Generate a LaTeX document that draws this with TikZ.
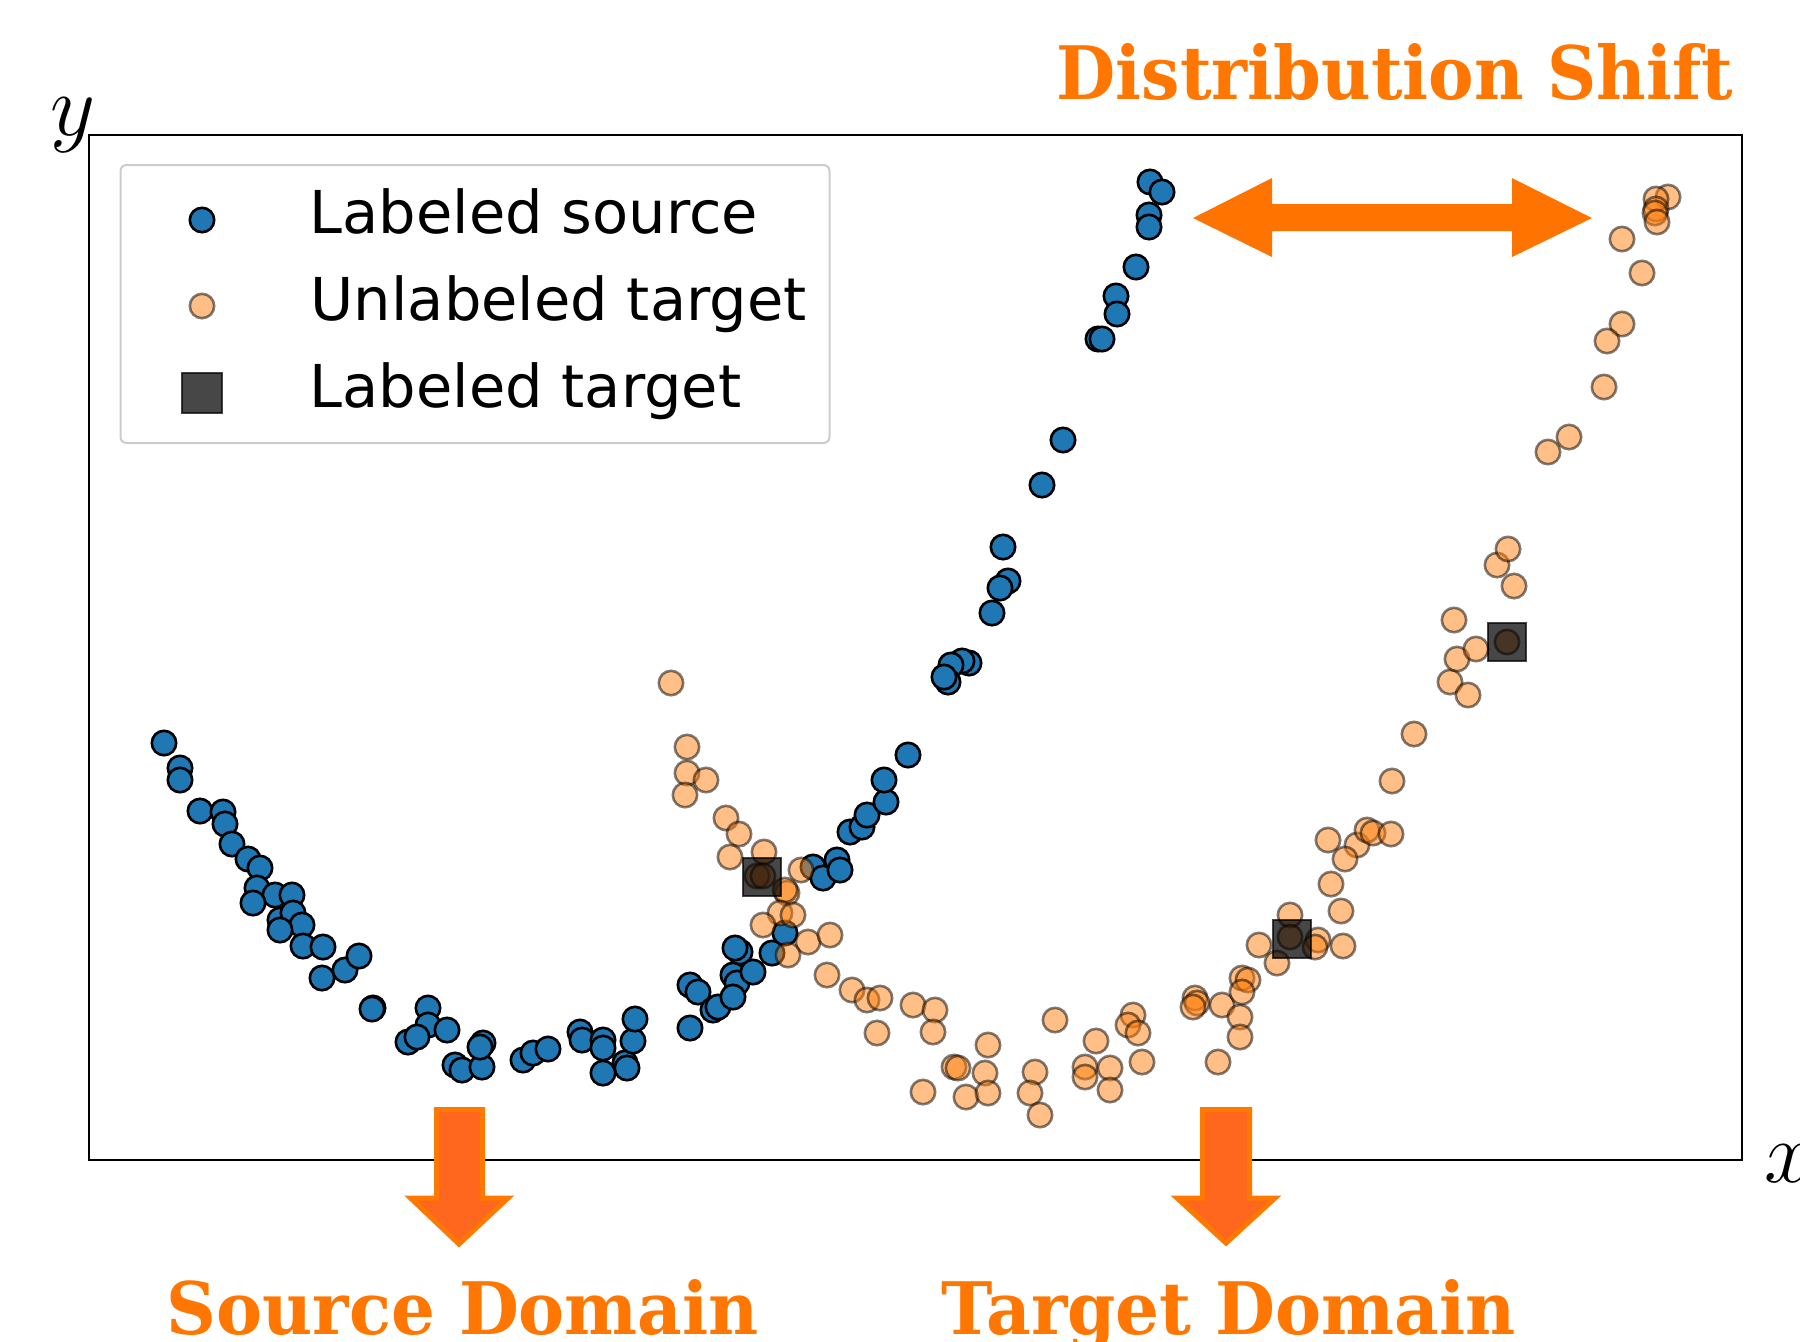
\documentclass[tikz,border=0pt]{standalone}
\usepackage{fontspec}
\newfontfamily\legfont{DejaVu Sans}
\newfontfamily\titlefont{DejaVu Serif}
\definecolor{mblue}{RGB}{31,119,180}
\definecolor{morange}{RGB}{255,127,14}
\definecolor{shiftorange}{RGB}{255,116,0}
\definecolor{txtorange}{RGB}{255,118,0}
\definecolor{downfill}{RGB}{255,102,30}
\definecolor{downedge}{RGB}{255,120,0}
\definecolor{leggray}{RGB}{204,204,204}
\tikzset{
  bluept/.style={fill=mblue, draw=black, line width=0.026cm},
  orpt/.style={fill=morange, draw=black, fill opacity=0.5, draw opacity=0.5, line width=0.026cm},
  sqpt/.style={fill=black, draw=black, fill opacity=0.72, draw opacity=0.72, line width=0.026cm},
  legtext/.style={anchor=base west, inner sep=0pt, font=\legfont\fontsize{16.8}{18}\selectfont},
  bigtext/.style={anchor=base west, inner sep=0pt, text=txtorange},
  axlabel/.style={anchor=base west, inner sep=0pt, font=\fontsize{23}{24}\selectfont},
  shiftarrow/.style={fill=shiftorange, draw=none},
  downarrow/.style={fill=downfill, draw=downedge, line width=0.05cm, miter limit=10},
}
\begin{document}
\begin{tikzpicture}[x=0.01cm, y=-0.01cm]
\useasboundingbox (0,0) rectangle (1800,1341);
% frame
\draw[line width=0.028cm] (89,135) rectangle (1742,1160);
% blue points
\foreach \x/\y in {164/743, 180/768, 180/780, 200/811, 223/812, 225/824, 232/844, 248/859, 260/868, 257/888, 275/895, 292/895, 253/903, 280/920, 293/913, 302/925, 280/930, 303/946, 323/947, 322/978, 345/970, 359/956, 373/1008, 372/1009, 428/1008, 428/1025, 447/1030, 408/1042, 417/1037, 455/1065, 462/1070, 482/1067, 483/1043, 480/1047, 523/1060, 533/1053, 548/1049, 580/1032, 582/1040, 603/1040, 603/1048, 603/1073, 625/1063, 627/1068, 633/1041, 635/1019,
690/985, 698/992, 713/1010, 718/1007, 690/1028, 733/975, 737/983, 733/997, 740/952, 735/948, 753/972, 772/953, 785/933, 813/867, 823/878, 837/860, 840/870, 850/832, 862/827, 867/815, 886/802, 884/780, 908/755,
1042/485, 1003/547, 1008/581, 1000/588, 992/613, 969/663, 962/661, 951/665, 948/682, 944/677,
1150/182, 1162/192, 1149/215, 1149/227, 1136/267, 1116/296, 1117/314, 1098/339, 1102/339, 1063/440}
  \draw[bluept] (\x,\y) circle (0.122cm);
% orange points
\foreach \x/\y in {671/683, 687/747, 687/773, 706/780, 685/795, 726/818, 739/834, 730/857, 764/852, 801/870, 787/893, 785/890, 757/876, 763/876, 780/913, 793/915, 763/925, 808/942, 830/935, 788/955, 827/975, 852/990, 867/1000, 880/998, 877/1033, 913/1005, 935/1010, 933/1032, 988/1045, 1055/1020,
954/1067, 958/1068, 985/1073, 923/1092, 966/1097, 988/1093, 1035/1072, 1030/1093, 1040/1115, 1096/1041, 1085/1067, 1085/1077, 1110/1068, 1110/1090, 1133/1015, 1128/1025, 1138/1033, 1142/1062, 1195/998, 1197/1003, 1193/1007, 1222/1005, 1218/1062, 1240/1017, 1240/1037, 1242/978, 1248/980, 1242/992, 1259/945, 1277/963, 1290/915,
1290/937, 1318/940, 1315/947, 1343/946, 1328/840, 1357/845, 1345/859, 1331/884, 1341/911, 1367/830, 1373/833, 1391/834, 1392/781, 1414/734, 1450/682, 1468/695, 1457/659, 1476/649, 1507/642, 1454/620, 1497/565, 1514/586, 1508/549,
1668/197, 1656/199, 1656/209, 1655/213, 1657/222, 1622/239, 1642/273, 1622/324, 1607/341, 1604/387, 1569/437, 1548/452}
  \draw[orpt] (\x,\y) circle (0.122cm);
% labeled target squares
\foreach \x/\y in {762/877, 1292/939, 1507/642}
  \draw[sqpt] (\x-19,\y-19) rectangle (\x+19,\y+19);
% legend
\draw[leggray, line width=0.02cm, rounded corners=0.06cm, fill=white, fill opacity=0.8] (120.5,165) rectangle (829.5,443);
\draw[bluept] (202,220) circle (0.122cm);
\draw[orpt] (202,306) circle (0.122cm);
\draw[sqpt] (182,373) rectangle (222,413);
\node[legtext] (l1) at (309,233) {Labeled source};
\node[legtext] (l2) at (310,320) {Unlabeled target};
\node[legtext] (l3) at (309,407) {Labeled target};
% axis labels
\node[axlabel] (ylab) at (50,135) {$y$};
\node[axlabel] (xlab) at (1764,1182) {$x$};
% distribution shift arrow
\fill[shiftarrow] (1193,218) -- (1272,178) -- (1272,204) -- (1512,204) -- (1512,178) -- (1592,218) -- (1512,257) -- (1512,231) -- (1272,231) -- (1272,257) -- cycle;
% down arrows
\draw[downarrow] (436.5,1109.5) -- (482.5,1109.5) -- (482.5,1198) -- (508,1198) -- (459,1244) -- (410.5,1198) -- (436.5,1198) -- cycle;
\draw[downarrow] (1202.5,1109.5) -- (1249.5,1109.5) -- (1249.5,1198) -- (1275,1198) -- (1226,1243) -- (1177,1198) -- (1202.5,1198) -- cycle;
% titles
\node[bigtext] (shift) at (1056,99) {\resizebox{6.76cm}{0.56cm}{\titlefont\bfseries Distribution Shift}};
\node[bigtext] (src) at (166,1334) {\resizebox{5.92cm}{0.55cm}{\titlefont\bfseries Source Domain}};
\node[bigtext] (tgt) at (941,1334) {\resizebox{5.74cm}{0.55cm}{\titlefont\bfseries Target Domain}};
\end{tikzpicture}
\end{document}
